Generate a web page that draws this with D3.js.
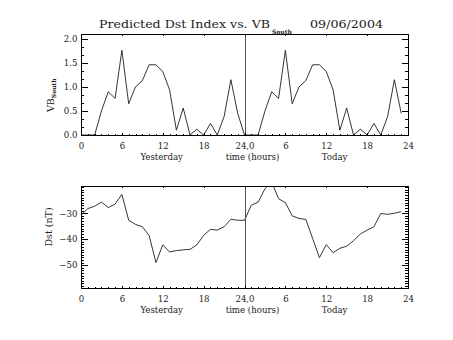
<!DOCTYPE html>
<html><head><meta charset="utf-8">
<script src="https://cdn.jsdelivr.net/npm/d3@7"></script>
<style>body{margin:0;background:#fff}svg{display:block}</style>
</head><body>
<script>
// ---- data ----
const hoursYesterday = d3.range(0, 24);
const hoursToday = d3.range(24, 48);
const vbYesterday = [0,0,0,0.5,0.9,0.76,1.76,0.65,1.0,1.13,1.46,1.46,1.32,0.94,0.1,0.56,0,0.12,0,0.24,0,0.38,1.15,0.45];
const vbToday     = [0,0,0,0.5,0.9,0.76,1.76,0.65,1.0,1.13,1.46,1.46,1.32,0.94,0.1,0.56,0,0.12,0,0.24,0,0.38,1.15,0.45];
const dstYesterday = [-30.8,-28.2,-27.3,-25.7,-27.8,-26.5,-22.7,-32.7,-34.3,-35.2,-38.6,-49,-42.2,-44.9,-44.4,-44.1,-43.9,-42.2,-38.5,-36.2,-36.5,-35.2,-32.3,-32.7];
const dstToday     = [-32.7,-26.9,-25.7,-20.6,-18,-24.4,-25.9,-31,-32,-32.4,-39.7,-47.1,-42.1,-45.2,-43.5,-42.7,-40.6,-38,-36.5,-35.2,-30.1,-30.4,-30,-29.4];
const xTickValues = [0,6,12,18,24,30,36,42,48];
const xTickLabels = ["0","6","12","18","24,0","6","12","18","24"];
const vbTicks = [0,0.5,1.0,1.5,2.0];
const vbTickLabels = ["0.0","0.5","1.0","1.5","2.0"];
const dstTicks = [-50,-40,-30];
const dstTickLabels = ["\u221250","\u221240","\u221230"];
const titleMain = "Predicted Dst Index vs. VB";
const titleSub = "South";
const titleDate = "09/06/2004";
const xTitleParts = ["Yesterday","time (hours)","Today"];

const W = 453, H = 340;
const FONT = "DejaVu Serif";
const INK = "#222";
const svg = d3.select("body").append("svg").attr("width", W).attr("height", H);

const x = d3.scaleLinear().domain([0, 48]).range([81, 408]);

function panel(opts) {
  const {y, yMinor, yTicks, yLabels, top, bottom, seriesList, clipId, labelBase, titleBase, ytitle} = opts;
  const g = svg.append("g");
  svg.append("clipPath").attr("id", clipId).append("rect")
    .attr("x", x(0)).attr("y", top).attr("width", x(48) - x(0)).attr("height", bottom - top);
  const line = d3.line().x(d => x(d[0])).y(d => y(d[1]));
  seriesList.forEach(s => {
    g.append("path").datum(s).attr("d", line).attr("fill", "none")
      .attr("stroke", "#111").attr("stroke-width", 0.85).attr("clip-path", `url(#${clipId})`);
  });
  g.append("line").attr("x1", Math.round(x(24)) + 0.5).attr("x2", Math.round(x(24)) + 0.5)
    .attr("y1", top).attr("y2", bottom).attr("stroke", "#555").attr("stroke-width", 1);

  const style = sel => { sel.select(".domain").remove(); sel.selectAll("line").attr("stroke", "#000").attr("shape-rendering", "crispEdges"); };
  g.append("g").attr("transform", `translate(0,${bottom})`)
    .call(d3.axisBottom(x).tickValues(d3.range(0, 49)).tickSize(-1).tickFormat("")).call(style);
  const bx = g.append("g").attr("transform", `translate(0,${bottom})`)
    .call(d3.axisBottom(x).tickValues(xTickValues).tickSize(-2.2).tickPadding(labelBase - 6).tickFormat((d, i) => xTickLabels[i])).call(style);
  bx.selectAll("text").attr("font-family", FONT).attr("font-size", 8.6).attr("fill", INK);
  g.append("g").attr("transform", `translate(0,${top})`)
    .call(d3.axisTop(x).tickValues(d3.range(0, 49)).tickSize(-1).tickFormat("")).call(style);
  g.append("g").attr("transform", `translate(0,${top})`)
    .call(d3.axisTop(x).tickValues(xTickValues).tickSize(-2.2).tickFormat("")).call(style);
  g.append("g").attr("transform", `translate(${x(0)},0)`)
    .call(d3.axisLeft(y).tickValues(yMinor).tickSize(-3.3).tickFormat("")).call(style);
  const ly = g.append("g").attr("transform", `translate(${x(0)},0)`)
    .call(d3.axisLeft(y).tickValues(yTicks).tickSize(-6.5).tickPadding(3.5).tickFormat((d, i) => yLabels[i])).call(style);
  ly.selectAll("text").attr("font-family", FONT).attr("font-size", 8.6).attr("fill", INK);
  g.append("g").attr("transform", `translate(${x(48)},0)`)
    .call(d3.axisRight(y).tickValues(yMinor).tickSize(-3.3).tickFormat("")).call(style);
  g.append("g").attr("transform", `translate(${x(48)},0)`)
    .call(d3.axisRight(y).tickValues(yTicks).tickSize(-6.5).tickFormat("")).call(style);
  g.append("rect").attr("x", Math.round(x(0)) + 0.5).attr("y", top + 0.5)
    .attr("width", Math.round(x(48)) - Math.round(x(0))).attr("height", bottom - top)
    .attr("fill", "none").attr("stroke", "#000").attr("stroke-width", 1);
  const xt = g.append("g").attr("font-family", FONT).attr("font-size", 8.6).attr("fill", INK).attr("text-anchor", "middle");
  xt.append("text").attr("x", 161.7).attr("y", bottom + titleBase).text(xTitleParts[0]);
  xt.append("text").attr("x", 252.5).attr("y", bottom + titleBase).text(xTitleParts[1]);
  xt.append("text").attr("x", 334.5).attr("y", bottom + titleBase).text(xTitleParts[2]);
  ytitle(g);
}

const yTop = d3.scaleLinear().domain([0, 2.1]).range([135, 34]);
const vbMinor = d3.range(0, 2.11, 0.5 / 3);
panel({
  y: yTop, yMinor: vbMinor, yTicks: vbTicks, yLabels: vbTickLabels, top: 34, bottom: 135,
  seriesList: [hoursYesterday.map((h, i) => [h, vbYesterday[i]]).concat([[24, vbToday[0]]]), hoursToday.map((h, i) => [h, vbToday[i]])],
  clipId: "c1", labelBase: 13.5, titleBase: 25,
  ytitle: g => {
    const t = g.append("text").attr("transform", "translate(53.5,112) rotate(-90)")
      .attr("font-family", FONT).attr("font-size", 9.5).attr("fill", INK);
    t.append("tspan").text("VB");
    t.append("tspan").attr("font-size", 6).attr("font-weight", "bold").attr("dy", 2.5).text("South");
  }
});

const yBot = d3.scaleLinear().domain([-58.8, -19.5]).range([288, 186]);
const dstMinor = d3.range(-58, -19, 1);
panel({
  y: yBot, yMinor: dstMinor, yTicks: dstTicks, yLabels: dstTickLabels, top: 186, bottom: 288,
  seriesList: [hoursYesterday.map((h, i) => [h, dstYesterday[i]]).concat([[24, dstToday[0]]]), hoursToday.map((h, i) => [h, dstToday[i]])],
  clipId: "c2", labelBase: 13.5, titleBase: 24.5,
  ytitle: g => {
    g.append("text").attr("transform", "translate(52,227) rotate(-90)").attr("text-anchor", "middle")
      .attr("font-family", FONT).attr("font-size", 9.5).attr("fill", INK).text("Dst (nT)");
  }
});

const tg = svg.append("g").attr("font-family", FONT).attr("fill", INK);
tg.append("text").attr("x", 99).attr("y", 28.3).attr("font-size", 11).attr("textLength", 171).attr("lengthAdjust", "spacingAndGlyphs").text(titleMain);
tg.append("text").attr("x", 272).attr("y", 33.5).attr("font-size", 6).attr("font-weight", "bold").text(titleSub);
tg.append("text").attr("x", 310).attr("y", 28.3).attr("font-size", 11).attr("textLength", 73).attr("lengthAdjust", "spacingAndGlyphs").text(titleDate);
</script>
</body></html>
